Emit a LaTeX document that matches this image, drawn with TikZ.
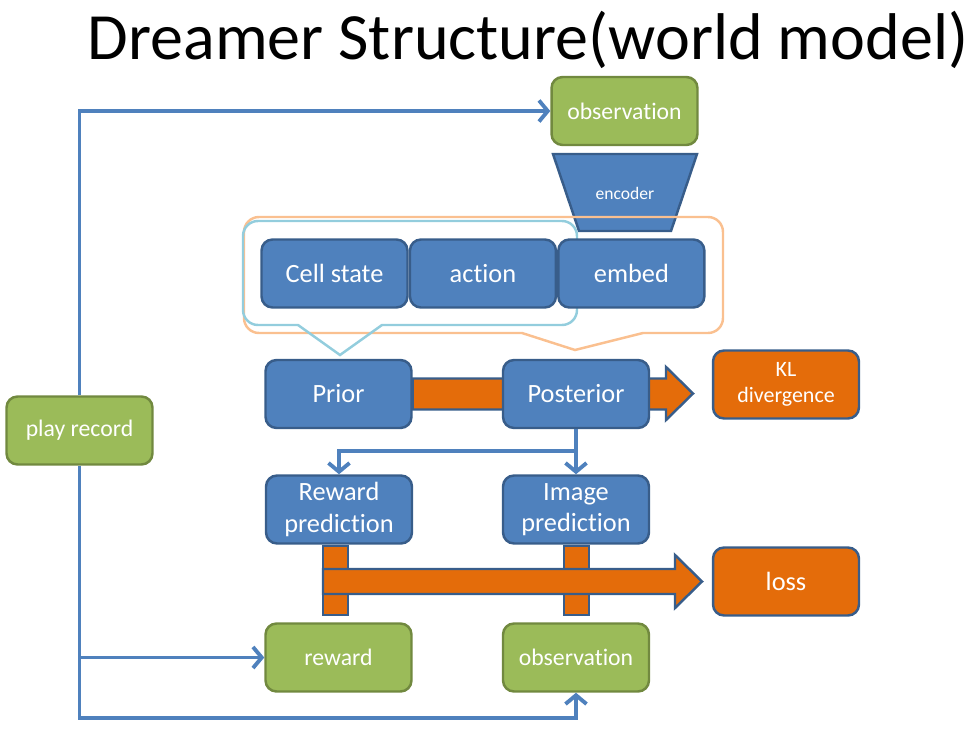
\documentclass[tikz,border=0pt]{standalone}
\usepackage{fontspec}
\setmainfont{Carlito}[Ligatures=NoCommon]
\usetikzlibrary{arrows.meta,positioning,calc}
\definecolor{blu}{HTML}{4F81BD}
\definecolor{bluline}{HTML}{385D8A}
\definecolor{grn}{HTML}{9BBB59}
\definecolor{grnline}{HTML}{71893F}
\definecolor{org}{HTML}{E46C0A}
\definecolor{peach}{HTML}{FAC090}
\definecolor{sky}{HTML}{93CDDD}

\begin{document}
\begin{tikzpicture}[x=0.02cm,y=-0.02cm,node distance=0cm,
box/.style={draw=bluline,line width=1.4pt,rounded corners=.22cm,fill=blu,text=white,
minimum width=2.92cm,minimum height=1.36cm,align=center,inner sep=1pt,
font=\fontsize{15}{18}\selectfont},
gbox/.style={box,draw=grnline,fill=grn,font=\fontsize{13.5}{16}\selectfont},
obox/.style={box,fill=org},
fat/.style={draw=bluline,line width=1.4pt,fill=org,line join=miter},
link/.style={draw=blu,line width=2.2pt,-{Straight Barb[length=5pt,width=12pt]}}]
\useasboundingbox (0,0) rectangle (974,734);
\node[anchor=base,inner sep=0] (title) at (528,59) {\fontsize{37.6}{42}\selectfont Dreamer Structure(world model)};
% data from the play record
\node[gbox] (obs) at (624.5,111) {observation};
\node[gbox] (play) at (79.5,430.5) {play record};
\draw[fill=blu,draw=bluline,line width=1.4pt] (553,154) -- (697,154) -- (671,231) -- (579,231) -- cycle;
\node[text=white,font=\fontsize{10}{12}\selectfont] (enc) at (625,193) {encoder};
% callouts
\draw[peach,line width=1.4pt] (522,333) [rounded corners=.3cm] -| (244,217) -| (723,333) [sharp corners] -- (643,333) -- (575,350) -- cycle;
\draw[sky,line width=1.4pt] (298,325) [rounded corners=.3cm] -| (243,221) -| (577,325) [sharp corners] -- (382,325) -- (340,355) -- cycle;
\node[box] (cell) at (334.5,273.5) {Cell state};
\node[box,right=of cell] (act) {action};
\node[box,right=of act] (emb) {embed};
% latent states
\node[box] (prior) at (338.5,394) {Prior};
\draw[fat] ($(prior.east)+(0,-15.5)$) -- (666,378.5) -- (666,367) -- (693,393.5) -- (666,420) -- (666,409.5) -- ($(prior.east)+(0,15.5)$) -- cycle;
\node[box] (post) at (576,394) {Posterior};
\node[obox,font=\fontsize{12.5}{15}\selectfont] (kl) at (786,384.5) {KL\\divergence};
% predictions and loss
\draw[fat] (323,546) rectangle (348,615);
\draw[fat] (564,546) rectangle (589,615);
\draw[fat] (323,569) -- (675,569) -- (675,555) -- (702,581.5) -- (675,608) -- (675,594) -- (323,594) -- cycle;
\node[box] (rpred) at (339,509.5) {Reward\\prediction};
\node[box] (ipred) at (576,509.5) {Image\\prediction};
\node[obox] (loss) at (786,581.5) {loss};
\node[gbox] (rew) at (338.5,657.5) {reward};
\node[gbox] (obsb) at (576,657.5) {observation};
% connectors
\coordinate (split) at (576,451);
\coordinate (mid) at (79.5,657.5);
\coordinate (bot) at (79.5,718);
\draw[link] (play.north) |- (obs.west);
\draw[link] (play.south) -- (bot) -| (obsb.south);
\draw[link] (mid) -- (rew.west);
\draw[link] (post.south) -- (split) -| (rpred.north);
\draw[link] (split) -- (ipred.north);
\end{tikzpicture}
\end{document}
